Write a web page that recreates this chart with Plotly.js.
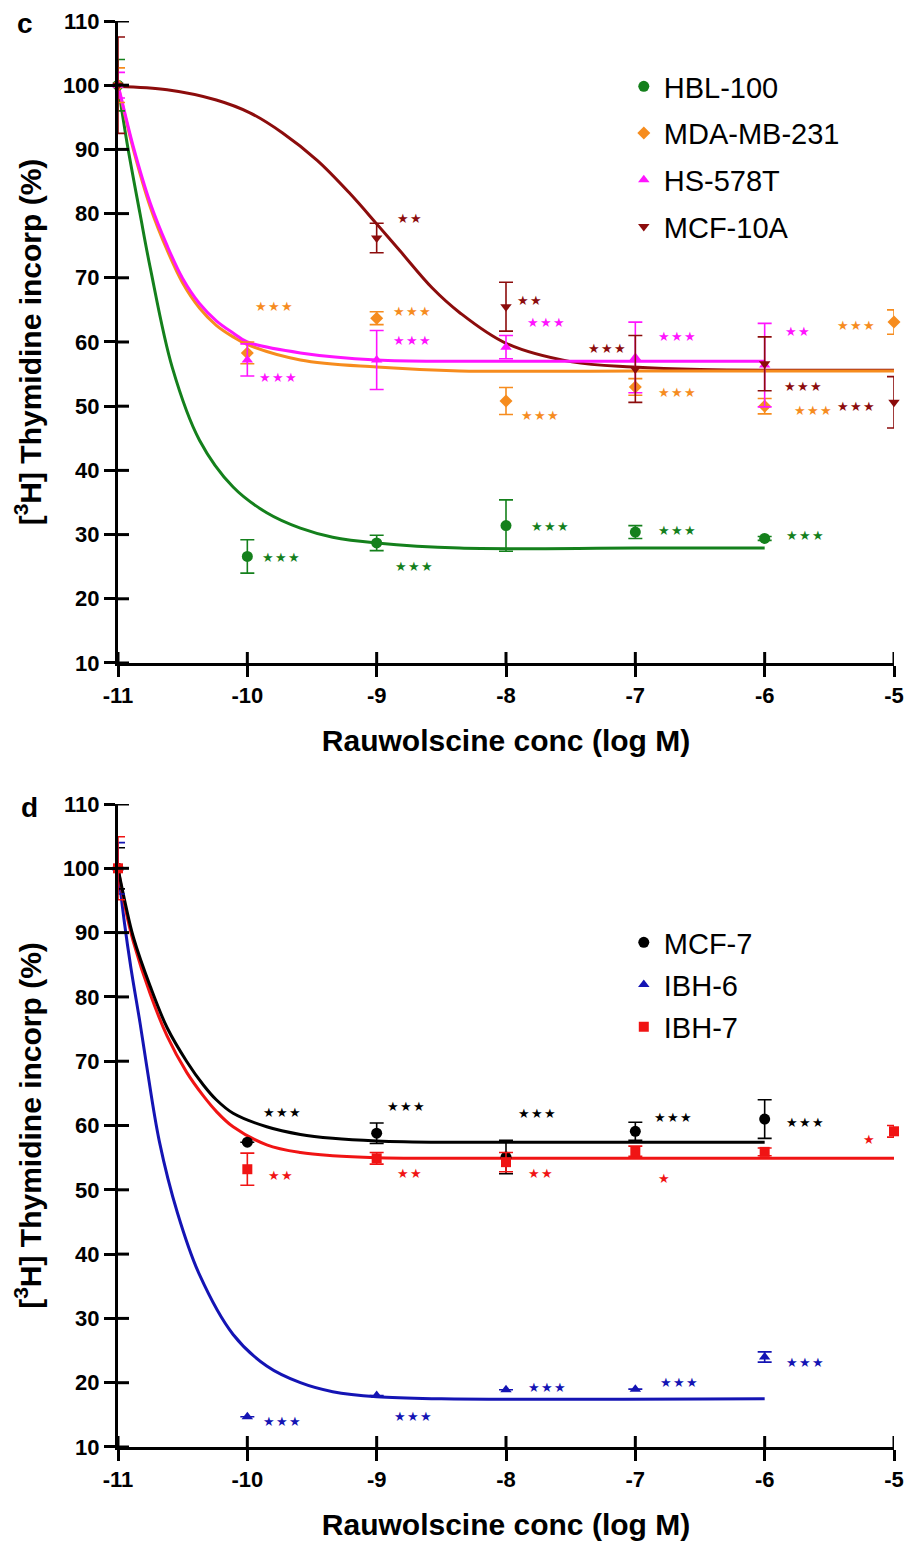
<!DOCTYPE html>
<html><head><meta charset="utf-8">
<script src="https://cdn.plot.ly/plotly-3.0.1.min.js"></script>
<style>html,body{margin:0;padding:0;background:#fff}#chart{width:908px;height:1543px}</style>
</head><body><div id="chart"></div>
<script>
// ===== Panel c : measured points (log M, % incorporation, SEM) =====
const hbl100X = [-11, -10, -9, -8, -7, -6];
const hbl100Y = [100, 26.6, 28.7, 31.4, 30.4, 29.4];
const hbl100E = [4.0, 2.6, 1.2, 4.0, 1.0, 0.3];

const mdaX = [-11, -10, -9, -8, -7, -6, -5];
const mdaY = [100, 58.3, 63.7, 50.8, 53.0, 50.0, 63.1];
const mdaE = [2.7, 1.7, 1.0, 2.1, 1.3, 1.2, 1.9];

const hsX = [-11, -10, -9, -8, -7, -6];
const hsY = [100, 57.2, 57.2, 59.2, 57.6, 56.4];
const hsE = [2.0, 2.5, 4.6, 1.8, 5.5, 6.5];

const mcf10aX = [-11, -9, -8, -7, -6, -5];
const mcf10aY = [100, 76.2, 65.5, 55.8, 56.6, 50.6];
const mcf10aE = [7.5, 2.3, 3.8, 5.2, 4.2, 4.0];

// Panel c : fitted curves
const hblFitX = [-11, -10.93, -10.83, -10.75, -10.58, -10.37, -10.11, -9.85, -9.59, -9.34, -9.0, -8.36, -7, -6];
const hblFitY = [100, 91.0, 80.0, 71.5, 56.0, 44.7, 37.4, 33.4, 31.0, 29.6, 28.7, 27.9, 27.9, 27.9];

const mdaFitX = [-11, -10.98, -10.88, -10.75, -10.62, -10.5, -10.37, -10.24, -10.11, -10.0, -9.59, -9.0, -8.36, -7, -5];
const mdaFitY = [100, 98.2, 89.9, 81.0, 74.3, 69.2, 65.3, 62.6, 60.8, 59.6, 57.2, 56.1, 55.5, 55.5, 55.5];

const hsFitX = [-11, -10.98, -10.88, -10.75, -10.62, -10.5, -10.37, -10.24, -10.11, -10.0, -9.59, -9.0, -8.36, -7, -6];
const hsFitY = [100, 98.4, 90.3, 81.6, 75.0, 69.9, 66.0, 63.3, 61.4, 60.0, 58.3, 57.2, 57.0, 57.0, 57.0];

const mcf10aFitX = [-11, -10.62, -10.24, -9.98, -9.73, -9.46, -9.21, -9.0, -8.82, -8.57, -8.36, -8.0, -7.49, -7.02, -6.5, -5];
const mcf10aFitY = [99.8, 99.3, 97.7, 95.7, 92.6, 88.3, 83.2, 78.4, 74.2, 68.4, 64.6, 59.8, 56.9, 56.1, 55.7, 55.6];

// ===== Panel d =====
const mcf7X = [-11, -10, -9, -8, -7, -6];
const mcf7Y = [100, 57.4, 58.8, 55.1, 59.1, 61.0];
const mcf7E = [3.2, 0, 1.6, 2.6, 1.4, 3.0];

const ibh6X = [-11, -10, -9, -8, -7, -6];
const ibh6Y = [100, 14.7, 18.0, 18.9, 19.0, 24.0];
const ibh6E = [4.0, 0, 0, 0, 0, 0.8];

const ibh7X = [-11, -10, -9, -8, -7, -6, -5];
const ibh7Y = [100, 53.2, 54.9, 54.3, 56.0, 55.9, 59.1];
const ibh7E = [4.9, 2.5, 0.9, 1.5, 0.8, 0.6, 0.9];

const mcf7FitX = [-11, -10.94, -10.88, -10.75, -10.62, -10.47, -10.34, -10.24, -10.11, -9.85, -9.59, -9.34, -9.0, -8.5, -6];
const mcf7FitY = [100, 94.2, 89.2, 81.6, 75.2, 70.0, 66.3, 64.0, 61.9, 59.8, 58.6, 58.0, 57.6, 57.4, 57.4];

const ibh6FitX = [-11, -10.95, -10.9, -10.83, -10.78, -10.68, -10.54, -10.37, -10.11, -9.85, -9.59, -9.34, -9.0, -8.5, -6];
const ibh6FitY = [100, 91.5, 84.5, 76.0, 69.5, 57.5, 46.4, 36.8, 27.5, 22.6, 20.0, 18.6, 17.8, 17.5, 17.5];

const ibh7FitX = [-11, -10.94, -10.88, -10.75, -10.62, -10.47, -10.34, -10.24, -10.11, -9.85, -9.59, -9.34, -9.0, -8.5, -5];
const ibh7FitY = [100, 93.5, 88.5, 80.4, 73.9, 68.3, 64.6, 62.2, 59.8, 57.0, 55.8, 55.3, 55.0, 54.9, 54.9];

const tickVals = [-11, -10, -9, -8, -7, -6, -5];
const yTickVals = [10, 20, 30, 40, 50, 60, 70, 80, 90, 100, 110];

// significance marks: [x, y, text, colour key]
const starsC = [
  [-9.79, 65.5, '***', 'orange'], [-8.73, 64.8, '***', 'orange'], [-8.73, 60.3, '***', 'magenta'],
  [-9.76, 54.4, '***', 'magenta'], [-8.75, 79.3, '**', 'darkred'], [-7.82, 66.4, '**', 'darkred'],
  [-7.69, 63.1, '***', 'magenta'], [-7.22, 59.0, '***', 'darkred'], [-6.68, 60.8, '***', 'magenta'],
  [-6.68, 52.1, '***', 'orange'], [-7.74, 48.5, '***', 'orange'], [-5.75, 61.6, '**', 'magenta'],
  [-5.70, 53.0, '***', 'darkred'], [-5.63, 49.4, '***', 'orange'], [-5.29, 49.9, '***', 'darkred'],
  [-5.29, 62.6, '***', 'orange'], [-9.74, 26.5, '***', 'green'], [-8.71, 25.0, '***', 'green'],
  [-7.66, 31.2, '***', 'green'], [-6.68, 30.6, '***', 'green'], [-5.69, 29.8, '***', 'green']
];
const starsD = [
  [-9.73, 62.1, '***', 'black'], [-8.77, 62.9, '***', 'black'], [-9.74, 52.3, '**', 'red'],
  [-8.75, 52.6, '**', 'red'], [-7.76, 61.9, '***', 'black'], [-7.73, 52.6, '**', 'red'],
  [-6.71, 61.3, '***', 'black'], [-6.78, 51.7, '*', 'red'], [-5.69, 60.5, '***', 'black'],
  [-5.19, 57.9, '*', 'red'], [-9.73, 13.9, '***', 'blue'], [-8.72, 14.7, '***', 'blue'],
  [-7.68, 19.2, '***', 'blue'], [-6.66, 20.0, '***', 'blue'], [-5.69, 23.1, '***', 'blue']
];

const COL = {
  green: '#14801c', orange: '#f68c1e', magenta: '#ff14ff', darkred: '#8c0c0c',
  black: '#000000', blue: '#1414b4', red: '#f01414'
};
const FONT = 'Liberation Sans, Arial, Helvetica, sans-serif';

// figure geometry
const W = 908, H = 1543, M = {l: 118, r: 14, t: 21, b: 96};
const DOM_C = [0.5498, 1], DOM_D = [0, 0.4509];
const X_RANGE = [-11, -5], Y_RANGE = [10, 110];
const TICK_LEN = 11;

function curve(x, y, color, xa, ya) {
  return {x, y, mode: 'lines', type: 'scatter', xaxis: xa, yaxis: ya, showlegend: false, hoverinfo: 'skip',
    line: {color, width: 3, shape: 'spline', smoothing: 1}};
}
function pts(name, x, y, err, color, symbol, size, xa, ya, legend) {
  return {name, x, y, mode: 'markers', type: 'scatter', xaxis: xa, yaxis: ya, legend, legendgroup: name,
    cliponaxis: false,
    marker: {color, symbol, size, line: {width: 0}},
    error_y: {type: 'data', array: err, visible: true, color, thickness: 1.6, width: 7}};
}
// inner half of the crossing tick marks of the original (TICK_LEN px converted to data units)
function innerTicks(xa, ya, dom) {
  const plotH = (H - M.t - M.b) * (dom[1] - dom[0]);
  const plotW = W - M.l - M.r;
  const dy = TICK_LEN * (Y_RANGE[1] - Y_RANGE[0]) / plotH;
  const dx = TICK_LEN * (X_RANGE[1] - X_RANGE[0]) / plotW;
  const x = [], y = [];
  tickVals.forEach(v => { x.push(v, v, null); y.push(Y_RANGE[0], Y_RANGE[0] + dy, null); });
  yTickVals.forEach(v => { x.push(X_RANGE[0], X_RANGE[0] + dx, null); y.push(v, v, null); });
  return {x, y, mode: 'lines', type: 'scatter', xaxis: xa, yaxis: ya, showlegend: false, hoverinfo: 'skip',
    connectgaps: false, cliponaxis: false, line: {color: '#000', width: 3}};
}

const traces = [
  curve(mcf10aFitX, mcf10aFitY, COL.darkred, 'x', 'y'),
  curve(hblFitX, hblFitY, COL.green, 'x', 'y'),
  curve(mdaFitX, mdaFitY, COL.orange, 'x', 'y'),
  curve(hsFitX, hsFitY, COL.magenta, 'x', 'y'),
  pts('HBL-100', hbl100X, hbl100Y, hbl100E, COL.green, 'circle', 11, 'x', 'y', 'legend'),
  pts('MDA-MB-231', mdaX, mdaY, mdaE, COL.orange, 'diamond', 10, 'x', 'y', 'legend'),
  pts('HS-578T', hsX, hsY, hsE, COL.magenta, 'triangle-up', 10, 'x', 'y', 'legend'),
  pts('MCF-10A', mcf10aX, mcf10aY, mcf10aE, COL.darkred, 'triangle-down', 10, 'x', 'y', 'legend'),
  innerTicks('x', 'y', DOM_C),

  curve(ibh6FitX, ibh6FitY, COL.blue, 'x2', 'y2'),
  curve(ibh7FitX, ibh7FitY, COL.red, 'x2', 'y2'),
  curve(mcf7FitX, mcf7FitY, COL.black, 'x2', 'y2'),
  pts('MCF-7', mcf7X, mcf7Y, mcf7E, COL.black, 'circle', 11, 'x2', 'y2', 'legend2'),
  pts('IBH-6', ibh6X, ibh6Y, ibh6E, COL.blue, 'triangle-up', 10, 'x2', 'y2', 'legend2'),
  pts('IBH-7', ibh7X, ibh7Y, ibh7E, COL.red, 'square', 10, 'x2', 'y2', 'legend2'),
  innerTicks('x2', 'y2', DOM_D)
];

const tickFont = {family: FONT, size: 22, color: '#000', weight: 'bold'};
const titleFont = {family: FONT, size: 30, color: '#000', weight: 'bold'};
function xAx(anchor, titleText) {
  return {anchor, range: X_RANGE, tickmode: 'array', tickvals: tickVals, ticktext: tickVals.map(String),
    ticks: 'outside', ticklen: TICK_LEN, tickwidth: 3, tickcolor: '#000', showline: true, linewidth: 3, linecolor: '#000',
    showgrid: false, zeroline: false, tickfont: tickFont, fixedrange: true,
    title: {text: titleText, font: titleFont, standoff: 23}};
}
function yAx(anchor, domain) {
  return {anchor, domain, range: Y_RANGE, tickmode: 'array', tickvals: yTickVals,
    ticks: 'outside', ticklen: TICK_LEN, tickwidth: 3, tickcolor: '#000', showline: true, linewidth: 3, linecolor: '#000',
    showgrid: false, zeroline: false, tickfont: tickFont, fixedrange: true,
    title: {text: '[<sup>3</sup>H] Thymidine incorp (%)', font: titleFont, standoff: 13}};
}

const starAnn = (list, xr, yr) => list.map(s => ({
  x: s[0], y: s[1], xref: xr, yref: yr, text: s[2].replace(/\*/g, '\u2605').split('').join('\u200A'),
  showarrow: false, font: {family: 'DejaVu Sans', size: 13, color: COL[s[3]]}
}));

const layout = {
  width: W, height: H,
  margin: {l: M.l, r: M.r, t: M.t, b: M.b, pad: 0},
  paper_bgcolor: '#fff', plot_bgcolor: '#fff',
  font: {family: FONT, color: '#000'},
  showlegend: true,
  xaxis: xAx('y', 'Rauwolscine conc (log M)'),
  yaxis: yAx('x', DOM_C),
  xaxis2: xAx('y2', 'Rauwolscine conc (log M)'),
  yaxis2: yAx('x2', DOM_D),
  legend: {x: 0.6518, y: 0.972, xanchor: 'left', yanchor: 'top', bgcolor: 'rgba(0,0,0,0)',
    font: {family: FONT, size: 29, color: '#000'}, tracegroupgap: 6, traceorder: 'grouped'},
  legend2: {x: 0.6518, y: 0.3717, xanchor: 'left', yanchor: 'top', bgcolor: 'rgba(0,0,0,0)',
    font: {family: FONT, size: 29, color: '#000'}, tracegroupgap: 1.5, traceorder: 'grouped'},
  annotations: [
    {x: -0.133, y: (1447 - 23) / 1426, xref: 'paper', yref: 'paper', xanchor: 'left', yanchor: 'middle',
      text: 'c', showarrow: false, font: {family: FONT, size: 28, weight: 'bold', color: '#000'}},
    {x: -0.128, y: (1447 - 807) / 1426, xref: 'paper', yref: 'paper', xanchor: 'left', yanchor: 'middle',
      text: 'd', showarrow: false, font: {family: FONT, size: 28, weight: 'bold', color: '#000'}}
  ].concat(starAnn(starsC, 'x', 'y')).concat(starAnn(starsD, 'x2', 'y2'))
};

Plotly.newPlot('chart', traces, layout, {staticPlot: true, displayModeBar: false});
</script>
</body></html>
